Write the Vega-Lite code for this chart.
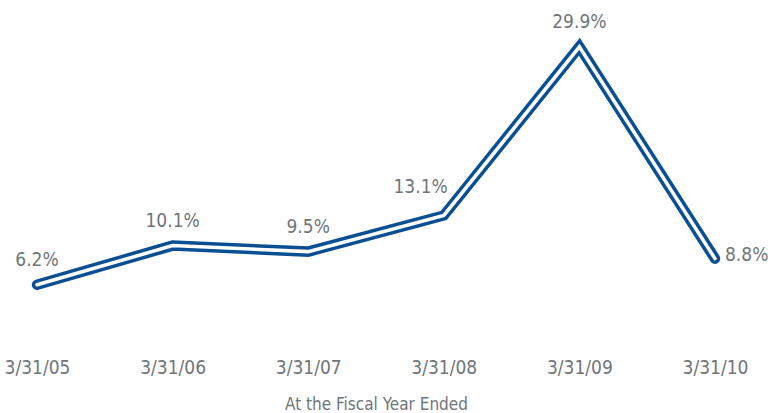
{
  "$schema": "https://vega.github.io/schema/vega-lite/v6.json",
  "width": 752,
  "height": 347,
  "autosize": "pad",
  "padding": 0,
  "background": "white",
  "config": {"view": {"stroke": null}},
  "data": {"values": [
    {"date": "3/31/05", "value": 6.2, "label": "6.2%", "pos": "top"},
    {"date": "3/31/06", "value": 10.1, "label": "10.1%", "pos": "top"},
    {"date": "3/31/07", "value": 9.5, "label": "9.5%", "pos": "top"},
    {"date": "3/31/08", "value": 13.1, "label": "13.1%", "pos": "left"},
    {"date": "3/31/09", "value": 29.9, "label": "29.9%", "pos": "top"},
    {"date": "3/31/10", "value": 8.8, "label": "8.8%", "pos": "right"}
  ]},
  "encoding": {
    "x": {"field": "date", "type": "ordinal", "sort": null,
      "scale": {"type": "point", "padding": 0.273},
      "axis": {"title": "At the Fiscal Year Ended", "labelAngle": 0, "domain": false, "ticks": false, "grid": false,
        "labelFont": "DejaVu Sans Condensed", "labelFontSize": 19, "labelColor": "#707579", "labelPadding": 11,
        "titleFont": "DejaVu Sans Condensed", "titleFontSize": 17, "titleFontWeight": "normal", "titleColor": "#707579", "titlePadding": 19}},
    "y": {"field": "value", "type": "quantitative", "scale": {"domain": [0, 34.56]}, "axis": null}
  },
  "layer": [
    {"mark": {"type": "line", "color": "#0b4f93", "strokeWidth": 10.5, "strokeCap": "round", "strokeJoin": "miter"}},
    {"mark": {"type": "line", "color": "white", "strokeWidth": 3.5, "strokeCap": "round", "strokeJoin": "miter"}},
    {"transform": [{"filter": "datum.pos == 'top'"}],
     "mark": {"type": "text", "dy": -25, "baseline": "middle", "font": "DejaVu Sans Condensed", "fontSize": 19, "color": "#707579"},
     "encoding": {"text": {"field": "label"}}},
    {"transform": [{"filter": "datum.pos == 'left'"}],
     "mark": {"type": "text", "dx": 4, "dy": -28, "align": "right", "baseline": "middle", "font": "DejaVu Sans Condensed", "fontSize": 19, "color": "#707579"},
     "encoding": {"text": {"field": "label"}}},
    {"transform": [{"filter": "datum.pos == 'right'"}],
     "mark": {"type": "text", "dx": 10, "dy": -4, "align": "left", "baseline": "middle", "font": "DejaVu Sans Condensed", "fontSize": 19, "color": "#707579"},
     "encoding": {"text": {"field": "label"}}}
  ]
}
